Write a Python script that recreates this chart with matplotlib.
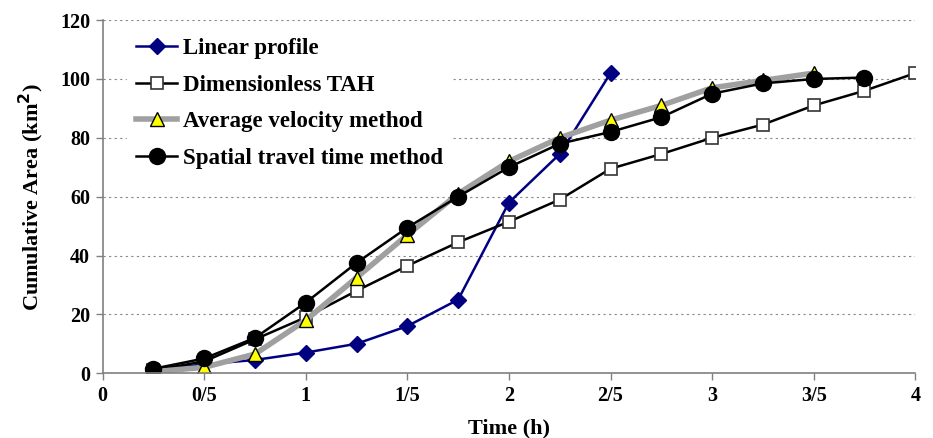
import matplotlib.pyplot as plt

# valores
tiempo = [0.25, 0.5, 0.75, 1.0, 1.25, 1.5, 1.75, 2.0, 2.25, 2.5, 2.75, 3.0, 3.25, 3.5, 3.75, 4.0]
perfil_lineal = [1, 3, 4.5, 7, 10, 16, 25, 58, 74.5, 102]
tah = [1, 4, 11.5, 19, 28, 36.5, 44.5, 51.5, 59, 69.5, 74.5, 80, 84.5, 91, 96, 102]
velocidad_media = [0.5, 2, 6.5, 18, 32.5, 47, 61, 72, 80, 86, 91, 97, 99.5, 102]
tiempo_viaje = [1.5, 5, 12, 24, 37.5, 49.5, 60, 70, 78, 82, 87, 95, 98.5, 100, 100.5]

xticks = [0, 0.5, 1, 1.5, 2, 2.5, 3, 3.5, 4]
xtick_labels = ['0', '0/5', '1', '1/5', '2', '2/5', '3', '3/5', '4']
yticks = [0, 20, 40, 60, 80, 100, 120]

plt.rcParams['font.family'] = ['Liberation Serif', 'DejaVu Serif']
plt.rcParams['font.weight'] = 'bold'

fig = plt.figure(figsize=(9.33, 4.38), dpi=100)
ax = fig.add_axes([0.110, 0.148, 0.871, 0.806])

ax.plot(tiempo[:len(perfil_lineal)], perfil_lineal, color='#000080', lw=1.8,
        marker='D', ms=8.5, mfc='#000080', mec='#000080', label='Linear profile')
ax.plot(tiempo[:len(tah)], tah, color='black', lw=1.8,
        marker='s', ms=8.5, mfc='white', mec='#333333', mew=1.2, label='Dimensionless TAH')
ax.plot(tiempo[:len(velocidad_media)], velocidad_media, color='#a0a0a0', lw=4,
        marker='^', ms=10.5, mfc='#ffff00', mec='black', mew=1.0, label='Average velocity method')
ax.plot(tiempo[:len(tiempo_viaje)], tiempo_viaje, color='black', lw=1.8,
        marker='o', ms=11.5, mfc='black', mec='black', label='Spatial travel time method')

ax.set_xlim(0, 4)
ax.set_ylim(0, 120)
ax.set_xticks(xticks)
ax.set_xticklabels(xtick_labels)
ax.set_yticks(yticks)
ax.tick_params(labelsize=14.5, colors='black', length=5, width=1, pad=4)
ax.tick_params(axis='both', color='#808080')
for lbl in ax.get_xticklabels() + ax.get_yticklabels():
    lbl.set_fontweight('bold')

ax.yaxis.grid(True, linestyle=(0, (2, 3)), color='#888888', lw=0.8)
ax.set_axisbelow(True)
for lado in ['top', 'right']:
    ax.spines[lado].set_visible(False)
for lado in ['left', 'bottom']:
    ax.spines[lado].set_color('#808080')
    ax.spines[lado].set_linewidth(1.2)

ax.set_xlabel('Time (h)', fontsize=16, fontweight='bold', labelpad=9)
ax.set_ylabel('Cumulative Area (km$^\\mathbf{2}$)', fontsize=16, fontweight='bold', labelpad=10)

leg = ax.legend(loc='upper left', bbox_to_anchor=(0.030, 0.975), borderaxespad=0,
                frameon=True, fontsize=16.5, handlelength=1.8, handletextpad=0.25,
                labelspacing=0.68, borderpad=0.4)
leg.get_frame().set_edgecolor('white')
leg.get_frame().set_facecolor('white')
leg.get_frame().set_alpha(1)
for t in leg.get_texts():
    t.set_fontweight('bold')

plt.savefig('out.png', dpi=100)
